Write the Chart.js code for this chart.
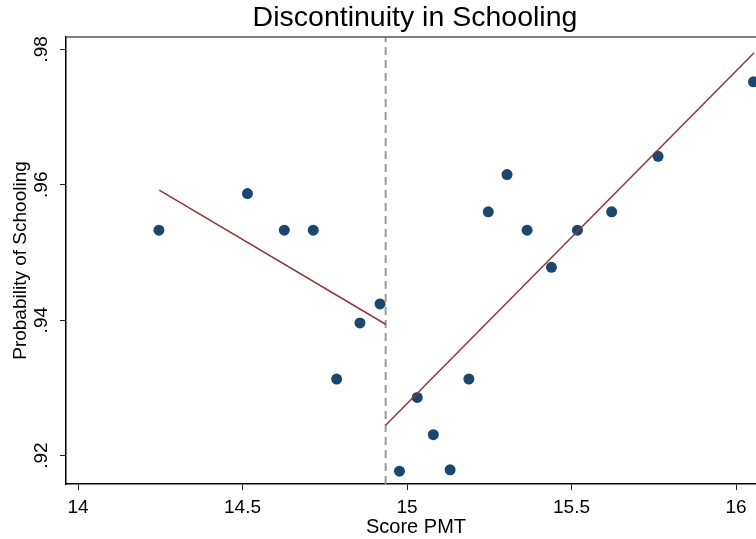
<!DOCTYPE html>
<html>
<head>
<meta charset="utf-8">
<title>Discontinuity in Schooling</title>
<script src="https://cdn.jsdelivr.net/npm/chart.js@4.4.1/dist/chart.umd.min.js"></script>
<style>
  html, body { margin: 0; padding: 0; background: #fff; overflow: hidden; }
  #rdChart { display: block; }
</style>
</head>
<body>
<canvas id="rdChart" width="844" height="539"></canvas>
<script>
// binned means: score PMT vs share in school
var scorePmt = [14.246, 14.515, 14.627, 14.715, 14.786, 14.857, 14.918, 14.977, 15.031, 15.080,
                15.131, 15.188, 15.247, 15.304, 15.365, 15.439, 15.518, 15.622, 15.763, 16.053];
var probSchool = [0.9533, 0.9587, 0.9533, 0.9533, 0.9313, 0.9396, 0.9424, 0.9177, 0.9286, 0.9231,
                  0.9179, 0.9313, 0.9560, 0.9615, 0.9533, 0.9478, 0.9533, 0.9560, 0.9642, 0.9752];

// linear fit on each side of the cutoff
var leftFitX = [14.247, 14.935];
var leftFitY = [0.9592, 0.9394];
var rightFitX = [14.935, 16.055];
var rightFitY = [0.9245, 0.9795];

var cutoff = 14.935;

// axes
var xTicks = [14, 14.5, 15, 15.5, 16];
var yTicks = [0.92, 0.94, 0.96, 0.98];
var yTickLabels = ['.92', '.94', '.96', '.98'];
var xRange = [13.9635, 16.0911];
var yRange = [0.91581, 0.98182];

var fontFamily = '"Liberation Sans", Arial, sans-serif';

function toPoints(xs, ys) {
    var pts = [];
    for (var i = 0; i < xs.length; i++) {
        pts.push({ x: xs[i], y: ys[i] });
    }
    return pts;
}

// top/right edge of the plot region
var framePlugin = {
    id: 'frame',
    afterDatasetsDraw: function (chart) {
        var a = chart.chartArea;
        var ctx = chart.ctx;
        ctx.save();
        ctx.strokeStyle = '#555';
        ctx.lineWidth = 1.5;
        ctx.beginPath();
        ctx.moveTo(a.left, a.top);
        ctx.lineTo(a.right, a.top);
        ctx.lineTo(a.right, a.bottom);
        ctx.stroke();
        ctx.restore();
    }
};

var ctx = document.getElementById('rdChart').getContext('2d');
var rdChart = new Chart(ctx, {
    type: 'scatter',
    data: {
        datasets: [{
            label: 'Fit left',
            data: toPoints(leftFitX, leftFitY),
            showLine: true,
            borderColor: '#90353b',
            borderWidth: 1.5,
            pointRadius: 0
        }, {
            label: 'Fit right',
            data: toPoints(rightFitX, rightFitY),
            showLine: true,
            borderColor: '#90353b',
            borderWidth: 1.5,
            pointRadius: 0
        }, {
            label: 'Cutoff',
            data: toPoints([cutoff, cutoff], yRange),
            showLine: true,
            borderColor: '#999999',
            borderWidth: 2,
            borderDash: [8, 5],
            pointRadius: 0
        }, {
            label: 'Probability of Schooling',
            data: toPoints(scorePmt, probSchool),
            backgroundColor: '#1a476f',
            borderWidth: 0,
            pointRadius: 5.5
        }]
    },
    options: {
        responsive: false,
        animation: false,
        layout: { padding: { left: 0, right: 14, top: 0, bottom: 0 } },
        plugins: {
            legend: { display: false },
            tooltip: { enabled: false },
            title: {
                display: true,
                text: 'Discontinuity in Schooling',
                color: '#000',
                font: { family: fontFamily, size: 28.5, weight: 'normal' },
                padding: { top: 0.8, bottom: 2 }
            }
        },
        scales: {
            x: {
                type: 'linear',
                min: xRange[0],
                max: xRange[1],
                afterBuildTicks: function (s) {
                    s.ticks = xTicks.map(function (v) { return { value: v }; });
                },
                afterFit: function (s) { s.height = 55; },
                grid: { drawOnChartArea: false, drawTicks: true, tickLength: 6, color: '#222', lineWidth: 1 },
                border: { display: true, color: '#000', width: 1.5 },
                ticks: {
                    color: '#000',
                    padding: 6,
                    maxRotation: 0,
                    font: { family: fontFamily, size: 19 },
                    callback: function (v) { return String(v); }
                },
                title: {
                    display: true,
                    text: 'Score PMT',
                    color: '#000',
                    font: { family: fontFamily, size: 20 },
                    padding: { top: 0, bottom: 0 }
                }
            },
            y: {
                type: 'linear',
                min: yRange[0],
                max: yRange[1],
                afterBuildTicks: function (s) {
                    s.ticks = yTicks.map(function (v) { return { value: v }; });
                },
                afterFit: function (s) { s.width = 66; },
                grid: { drawOnChartArea: false, drawTicks: true, tickLength: 6, color: '#222', lineWidth: 1 },
                border: { display: true, color: '#000', width: 1.5 },
                ticks: {
                    color: '#000',
                    padding: 5,
                    minRotation: 90,
                    maxRotation: 90,
                    crossAlign: 'center',
                    font: { family: fontFamily, size: 19 },
                    callback: function (v) { return yTickLabels[yTicks.indexOf(v)]; }
                },
                title: {
                    display: true,
                    text: 'Probability of Schooling',
                    color: '#000',
                    font: { family: fontFamily, size: 19 },
                    padding: { top: 9, bottom: 0 }
                }
            },
            // empty right margin of the graph region (outside the window)
            yMargin: {
                type: 'linear',
                position: 'right',
                display: true,
                afterFit: function (s) { s.width = 64; },
                grid: { display: false },
                border: { display: false },
                ticks: { display: false }
            }
        }
    },
    plugins: [framePlugin]
});
</script>
</body>
</html>
